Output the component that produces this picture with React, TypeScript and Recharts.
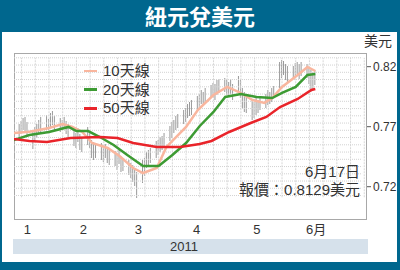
import React from "react";
import { ComposedChart, Bar, Line, XAxis, YAxis, ReferenceLine } from "recharts";

// day of year (Jan 1 = 0) for each trading day, 14 Jan - 17 Jun 2011
const tradeDays = [
  13, 16, 17, 18, 19, 20, 23, 24, 25, 26, 27, 30, 31, 32, 33, 34, 37, 38, 39, 40, 41,
  44, 45, 46, 47, 48, 51, 52, 53, 54, 55, 58, 59, 60, 61, 62, 65, 66, 67, 68, 69,
  72, 73, 74, 75, 76, 79, 80, 81, 82, 83, 86, 87, 88, 89, 90, 93, 94, 95, 96, 97,
  100, 101, 102, 103, 104, 107, 108, 109, 110, 111, 114, 115, 116, 117, 118,
  121, 122, 123, 124, 125, 128, 129, 130, 131, 132, 135, 136, 137, 138, 139,
  142, 143, 144, 145, 146, 149, 150, 151, 152, 153, 156, 157, 158, 159, 160,
  163, 164, 165, 166, 167,
];

const highs = [
  0.7714, 0.7723, 0.7748, 0.7773, 0.7781, 0.7739, 0.7672, 0.7698, 0.7723, 0.7756, 0.7781,
  0.7798, 0.7764, 0.7814, 0.7831, 0.7789, 0.7773, 0.7756, 0.7781, 0.7748, 0.7723,
  0.7672, 0.7648, 0.7689, 0.7639, 0.7606, 0.7698, 0.7656, 0.7589, 0.7573, 0.7556,
  0.7564, 0.7539, 0.7556, 0.7523, 0.7506, 0.7498, 0.7481, 0.7506, 0.7456, 0.7439,
  0.7422, 0.7398, 0.7381, 0.7356, 0.7323, 0.7422, 0.7439, 0.7489, 0.7506, 0.7523,
  0.7581, 0.7589, 0.7614, 0.7623, 0.7648, 0.7706, 0.7739, 0.7756, 0.7789, 0.7806,
  0.7839, 0.7856, 0.7889, 0.7906, 0.7922, 0.7956, 0.7973, 0.8006, 0.7989, 0.8023,
  0.8048, 0.8064, 0.8056, 0.8089, 0.8098, 0.8106, 0.8089, 0.8073, 0.8098, 0.8056,
  0.8123, 0.8089, 0.8023, 0.7989, 0.7964, 0.7922, 0.7906, 0.7939, 0.7922, 0.7948,
  0.7973, 0.8006, 0.7989, 0.8023, 0.8039, 0.8239, 0.8256, 0.8248, 0.8223, 0.8206,
  0.8206, 0.8231, 0.8239, 0.8223, 0.8239, 0.8223, 0.8189, 0.8173, 0.8156, 0.8173,
];

const lows = [
  0.7622, 0.7606, 0.7639, 0.7672, 0.7656, 0.7614, 0.7514, 0.7573, 0.7606, 0.7639, 0.7656,
  0.7672, 0.7647, 0.7698, 0.7714, 0.7664, 0.7656, 0.7672, 0.7689, 0.7639, 0.7598,
  0.7539, 0.7523, 0.7573, 0.7506, 0.7489, 0.7548, 0.7523, 0.7439, 0.7422, 0.7439,
  0.7422, 0.7406, 0.7439, 0.7398, 0.7381, 0.7373, 0.7339, 0.7389, 0.7323, 0.7331,
  0.7298, 0.7273, 0.7239, 0.7206, 0.7106, 0.7231, 0.7289, 0.7356, 0.7381, 0.7398,
  0.7439, 0.7464, 0.7489, 0.7506, 0.7523, 0.7581, 0.7606, 0.7648, 0.7672, 0.7689,
  0.7723, 0.7739, 0.7773, 0.7789, 0.7798, 0.7823, 0.7856, 0.7889, 0.7873, 0.7906,
  0.7939, 0.7948, 0.7922, 0.7964, 0.7981, 0.7989, 0.7964, 0.7948, 0.7973, 0.7922,
  0.7989, 0.7939, 0.7856, 0.7823, 0.7814, 0.7756, 0.7773, 0.7798, 0.7814, 0.7839,
  0.7856, 0.7881, 0.7889, 0.7906, 0.7939, 0.8023, 0.8106, 0.8131, 0.8089, 0.8073,
  0.8106, 0.8123, 0.8139, 0.8098, 0.8123, 0.8106, 0.8056, 0.7989, 0.8006, 0.8048,
];

const ma10Days = [13, 21, 31, 38, 43, 48, 53, 61, 67, 74, 79, 86, 91, 101, 107, 115, 122, 128, 135, 141, 145, 150, 158, 163, 167];
const ma10 = [
  0.7648, 0.7658, 0.7689, 0.7723, 0.7698, 0.7656, 0.7564, 0.7523, 0.7456, 0.7356, 0.7314,
  0.7356, 0.7531, 0.7698, 0.7839, 0.7964, 0.8031, 0.7989, 0.7922, 0.7898, 0.7939, 0.8031,
  0.8131, 0.8198, 0.8164,
];

const ma20Days = [13, 21, 31, 41, 45, 51, 57, 64, 71, 79, 87, 94, 101, 108, 115, 121, 129, 137, 145, 150, 157, 163, 167];
const ma20 = [
  0.7589, 0.7631, 0.7656, 0.7698, 0.7664, 0.7664, 0.7614, 0.7548, 0.7464, 0.7373, 0.7373,
  0.7464, 0.7564, 0.7706, 0.7823, 0.7948, 0.7973, 0.7948, 0.7939, 0.7981, 0.8031, 0.8131,
  0.8139,
];

const ma50Days = [13, 21, 30, 42, 57, 66, 74, 86, 98, 108, 114, 123, 134, 142, 149, 158, 165, 167];
const ma50 = [
  0.7597, 0.7581, 0.7573, 0.7606, 0.7614, 0.7606, 0.7564, 0.7531, 0.7531, 0.7556, 0.7581,
  0.7656, 0.7731, 0.7781, 0.7864, 0.7931, 0.8006, 0.8014,
];

const yTicks = [0.72, 0.77, 0.82];
const monthTicks = [31.2, 60.8, 91.9, 120.9, 151];
const monthLabelPos = [20, 48.5, 76.6, 106.4, 137.1, 167.4];
const monthLabels = ["1", "2", "3", "4", "5", "6月"];

const legendItems = [
  { name: "10天線", color: "#f9b69e" },
  { name: "20天線", color: "#3d9b33" },
  { name: "50天線", color: "#e9242a" },
];

const bars = tradeDays.map((d, i) => ({ d, lo: lows[i], hi: highs[i] }));
const toLine = (days: number[], vals: number[]) => days.map((d, i) => ({ d, v: vals[i] }));

const X_DOMAIN: [number, number] = [13.13, 193.4];
const Y_DOMAIN: [number, number] = [0.6931, 0.8314];

// background grid: weekly verticals, fine dotted horizontals
const weekLines = Array.from({ length: 26 }, (_, i) => 17 + 7 * i);
const gridRows = Array.from({ length: 20 }, (_, i) => 0.8274 - 0.00604 * i);
const GRID_X: [number, number] = [13.13, 190.9];
const GRID_Y: [number, number] = [0.7112, 0.8274];

const FONT = '"Liberation Sans", Arial, "Noto Sans CJK TC", sans-serif';
const TEXT = "#333";

export default function App() {
  return (
    <div
      style={{
        position: "absolute",
        left: 0,
        top: 0,
        width: 400,
        height: 270,
        background: "#00678e",
        fontFamily: FONT,
        overflow: "hidden",
      }}
    >
      <div
        style={{
          position: "absolute",
          left: 0,
          top: 0,
          width: 400,
          height: 32,
          lineHeight: "31px",
          textAlign: "center",
          color: "#fff",
          fontSize: 22,
          fontWeight: "bold",
          fontFamily: '"Noto Sans CJK TC", sans-serif',
        }}
      >
        紐元兌美元
      </div>
      <div style={{ position: "absolute", left: 2, top: 32, width: 395, height: 230, background: "#fff" }} />
      <div
        style={{
          position: "absolute",
          left: 364,
          top: 33,
          fontSize: 14,
          lineHeight: "17px",
          color: TEXT,
        }}
      >
        美元
      </div>
      <div
        style={{
          position: "absolute",
          left: 14,
          top: 52.5,
          width: 353,
          height: 167,
          border: "1px solid #a8a8a8",
          boxSizing: "border-box",
        }}
      />
      <div
        style={{
          position: "absolute",
          left: 13,
          top: 239,
          width: 355,
          height: 15,
          background: "#d6e1eb",
          fontSize: 13,
          lineHeight: "15px",
          textAlign: "center",
          color: TEXT,
          paddingRight: 13,
          boxSizing: "border-box",
        }}
      >
        2011
      </div>

      <div style={{ position: "absolute", left: 0, top: 0 }}>
        <ComposedChart
          width={400}
          height={270}
          data={bars}
          margin={{ top: 53, right: 3, bottom: 31, left: 14 }}
        >
          <XAxis
            dataKey="d"
            type="number"
            domain={X_DOMAIN}
            allowDataOverflow
            ticks={monthTicks}
            tick={false}
            mirror
            tickSize={4}
            tickLine={{ stroke: "#444" }}
            axisLine={false}
            height={0}
          />
          <XAxis
            xAxisId="lbl"
            dataKey="d"
            type="number"
            domain={X_DOMAIN}
            allowDataOverflow
            ticks={monthLabelPos}
            tickFormatter={(v: number) => monthLabels[monthLabelPos.indexOf(v)]}
            tick={{ fontSize: 13, fill: TEXT }}
            tickLine={false}
            axisLine={false}
            tickSize={0}
            tickMargin={6}
            interval={0}
            height={20}
          />
          <YAxis
            orientation="right"
            type="number"
            domain={Y_DOMAIN}
            allowDataOverflow
            ticks={yTicks}
            tickFormatter={(v: number) => v.toFixed(2)}
            tick={{ fontSize: 12, fill: TEXT }}
            tickLine={{ stroke: "#555" }}
            tickSize={4}
            tickMargin={2}
            axisLine={false}
            width={30}
          />
          {gridRows.map((v) => (
            <ReferenceLine
              key={"h" + v}
              segment={[{ x: GRID_X[0], y: v }, { x: GRID_X[1], y: v }]}
              stroke="#d2d2d2"
              strokeDasharray="1 1"
            />
          ))}
          {weekLines.map((d) => (
            <ReferenceLine
              key={"v" + d}
              segment={[{ x: d, y: GRID_Y[0] }, { x: d, y: GRID_Y[1] }]}
              stroke="#d6d6d6"
              strokeDasharray="2 1"
            />
          ))}
          <Bar
            dataKey={(r: any) => [r.lo, r.hi]}
            barSize={1}
            fill="#9a9a9a"
            isAnimationActive={false}
          />
          <Line
            data={toLine(ma10Days, ma10)}
            dataKey="v"
            type="linear"
            stroke={legendItems[0].color}
            strokeWidth={2.5}
            dot={false}
            isAnimationActive={false}
          />
          <Line
            data={toLine(ma20Days, ma20)}
            dataKey="v"
            type="linear"
            stroke={legendItems[1].color}
            strokeWidth={2.5}
            dot={false}
            isAnimationActive={false}
          />
          <Line
            data={toLine(ma50Days, ma50)}
            dataKey="v"
            type="linear"
            stroke={legendItems[2].color}
            strokeWidth={2.5}
            dot={false}
            isAnimationActive={false}
          />
        </ComposedChart>
      </div>

      {legendItems.map((it, i) => (
        <div
          key={it.name}
          style={{ position: "absolute", left: 84, top: 62 + i * 18.7, height: 18, display: "flex", alignItems: "center" }}
        >
          <span style={{ display: "inline-block", width: 13, height: 2.5, background: it.color }} />
          <span style={{ marginLeft: 6, fontSize: 15, lineHeight: "18px", color: TEXT }}>{it.name}</span>
        </div>
      ))}

      <div
        style={{
          position: "absolute",
          right: 40,
          top: 162.5,
          fontSize: 15,
          lineHeight: "18px",
          color: TEXT,
          textAlign: "right",
          whiteSpace: "nowrap",
        }}
      >
        6月17日
        <br />
        報價：0.8129美元
      </div>
    </div>
  );
}
